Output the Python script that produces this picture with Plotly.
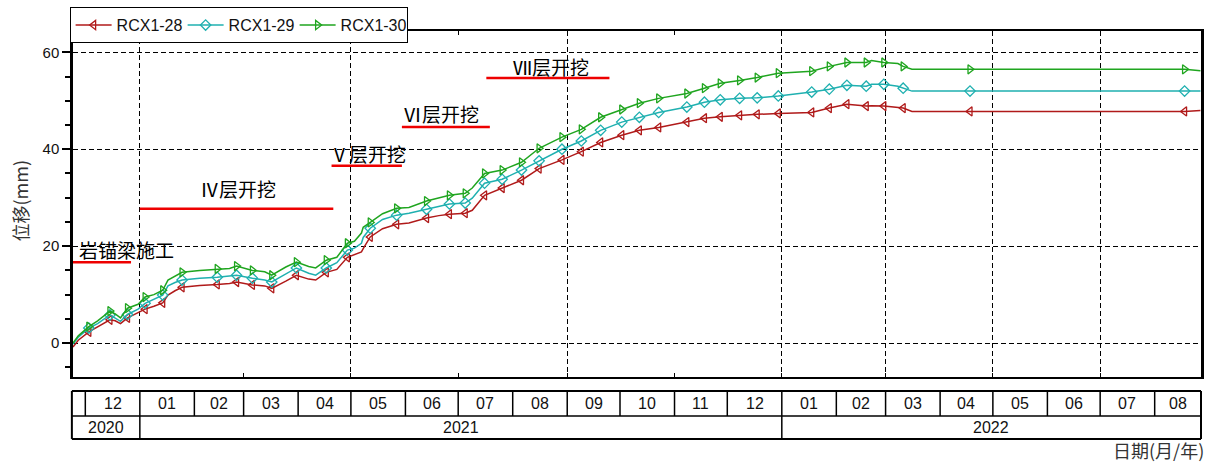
import pandas as pd
import plotly.graph_objects as go

# ---------------- data ----------------
DATES = [
    "2020-11-24", "2020-11-27", "2020-12-03", "2020-12-08", "2020-12-15", "2020-12-18",
    "2020-12-21", "2020-12-25", "2020-12-31", "2021-01-04", "2021-01-09", "2021-01-14",
    "2021-01-17", "2021-01-21", "2021-01-25", "2021-02-04", "2021-02-14", "2021-02-21",
    "2021-02-25", "2021-03-06", "2021-03-13", "2021-03-17", "2021-03-25", "2021-03-31",
    "2021-04-07", "2021-04-11", "2021-04-17", "2021-04-23", "2021-04-29", "2021-05-03",
    "2021-05-07", "2021-05-08", "2021-05-12", "2021-05-19", "2021-05-27", "2021-06-03",
    "2021-06-13", "2021-06-20", "2021-06-26", "2021-07-05", "2021-07-09", "2021-07-16",
    "2021-07-26", "2021-08-06", "2021-08-16", "2021-08-29", "2021-09-09", "2021-09-20",
    "2021-10-02", "2021-10-12", "2021-10-23", "2021-11-08", "2021-11-18", "2021-11-27",
    "2021-12-08", "2021-12-18", "2021-12-30", "2022-01-18", "2022-01-28", "2022-02-07",
    "2022-02-18", "2022-02-21", "2022-02-28", "2022-03-08", "2022-03-11", "2022-03-16",
    "2022-04-18", "2022-08-18", "2022-08-27",
]
RCX1_28 = [
    -0.8, 0.6, 2.3, 3.4, 4.8, 4.6,
    4.0, 5.2, 6.2, 7.0, 7.6, 8.3,
    9.9, 10.8, 11.5, 11.9, 12.1, 12.3,
    12.6, 12.0, 11.8, 11.3, 12.8, 14.0,
    13.2, 13.0, 14.6, 15.2, 17.7, 18.3,
    18.8, 19.5, 21.9, 23.6, 24.5, 24.8,
    25.8, 26.3, 26.6, 26.8, 27.4, 30.5,
    32.0, 33.6, 36.0, 37.8, 39.5, 41.4,
    42.9, 43.9, 44.5, 45.6, 46.4, 46.7,
    47.0, 47.2, 47.4, 47.6, 48.5, 49.3,
    48.9, 49.0, 48.9, 48.7, 48.5, 47.8,
    47.8, 47.8, 48.0,
]
RCX1_29 = [
    -0.2, 1.2, 3.1, 4.0, 5.8, 5.2,
    4.5, 5.9, 7.0, 8.2, 9.0, 9.9,
    11.8, 12.5, 13.0, 13.4, 13.6, 13.8,
    14.0, 13.4, 13.0, 12.6, 14.3, 15.5,
    14.4, 14.0, 15.5, 16.6, 19.2, 19.6,
    20.6, 21.8, 23.7, 25.5, 26.4, 26.8,
    27.6, 28.2, 28.7, 28.9, 29.9, 33.0,
    33.8, 35.7, 37.6, 40.0, 41.7, 43.9,
    45.6, 46.6, 47.6, 48.7, 49.7, 50.2,
    50.5, 50.6, 51.0, 51.8, 52.4, 53.2,
    53.0, 53.4, 53.4, 53.0, 52.6, 52.0,
    52.0, 52.0, 52.0,
]
RCX1_30 = [
    0.0, 1.5, 3.4, 4.6, 6.6, 6.0,
    5.2, 7.2, 8.0, 9.5, 10.0, 10.9,
    13.0, 13.8, 14.6, 15.0, 15.3, 15.4,
    15.9, 15.0, 14.7, 14.0, 15.7, 16.7,
    15.8, 15.5, 17.1, 17.7, 20.6, 21.0,
    22.7, 23.9, 24.9, 26.7, 27.8, 28.0,
    29.3, 30.0, 30.5, 30.9, 32.0, 35.0,
    35.7, 37.3, 40.2, 42.5, 44.1, 46.6,
    48.2, 49.5, 50.5, 51.5, 52.6, 53.6,
    54.2, 54.8, 55.7, 56.1, 57.1, 57.9,
    57.9, 58.3, 57.9, 57.7, 57.1, 56.5,
    56.5, 56.5, 56.2,
]
MARKER_DATES = [
    "2020-12-03", "2020-12-15", "2020-12-25", "2021-01-04", "2021-01-14", "2021-01-25",
    "2021-02-14", "2021-02-25", "2021-03-06", "2021-03-17", "2021-03-31", "2021-04-17",
    "2021-04-29", "2021-05-12", "2021-05-27", "2021-06-13", "2021-06-26", "2021-07-05",
    "2021-07-16", "2021-07-26", "2021-08-06", "2021-08-16", "2021-08-29", "2021-09-09",
    "2021-09-20", "2021-10-02", "2021-10-12", "2021-10-23", "2021-11-08", "2021-11-18",
    "2021-11-27", "2021-12-08", "2021-12-18", "2021-12-30", "2022-01-18", "2022-01-28",
    "2022-02-07", "2022-02-18", "2022-02-28", "2022-03-11", "2022-04-18", "2022-08-18",
]
SERIES_NAMES = ["RCX1-28", "RCX1-29", "RCX1-30"]

MONTH_STARTS = [
    "2020-12-01", "2021-01-01", "2021-02-01", "2021-03-01", "2021-04-01", "2021-05-01",
    "2021-06-01", "2021-07-01", "2021-08-01", "2021-09-01", "2021-10-01", "2021-11-01",
    "2021-12-01", "2022-01-01", "2022-02-01", "2022-03-01", "2022-04-01", "2022-05-01",
    "2022-06-01", "2022-07-01", "2022-08-01",
]
MONTH_LABELS = ["12", "01", "02", "03", "04", "05", "06", "07", "08", "09", "10", "11",
                "12", "01", "02", "03", "04", "05", "06", "07", "08"]
YEAR_STARTS = ["2021-01-01", "2022-01-01"]
YEAR_LABELS = ["2020", "2021", "2022"]
GRID_DATES = ["2021-01-01", "2021-05-01", "2021-09-01", "2022-01-01",
              "2022-03-01", "2022-05-01", "2022-07-01"]

STAGE_LABELS = ["岩锚梁施工", "Ⅳ层开挖", "Ⅴ层开挖", "Ⅵ层开挖", "Ⅶ层开挖"]
STAGE_START = ["2020-11-24", "2021-01-01", "2021-04-20", "2021-05-30", "2021-07-17"]
STAGE_END = ["2020-12-27", "2021-04-21", "2021-05-30", "2021-07-19", "2021-09-25"]
STAGE_LEVEL = [16.7, 27.7, 36.6, 44.6, 54.7]
STAGE_TEXT_X = ["2020-11-26", "2021-02-26", "2021-05-11", "2021-06-21", "2021-08-23"]
STAGE_TEXT_Y = [19.3, 32.0, 39.2, 47.3, 57.0]
STAGE_TEXT_ANCHOR = ["left", "center", "center", "center", "center"]

X_RANGE = ["2020-11-24", "2022-08-27 08:00"]
Y_RANGE = [-7.0, 64.4]

# ---------------- styles ----------------
COLORS = ["#B01A1A", "#1FB0B0", "#1FA51F"]
SYMBOLS = ["triangle-left-open", "diamond-open", "triangle-right-open"]
SANS = "Liberation Sans, Arial, sans-serif"
CJK = "Noto Sans CJK SC, sans-serif"

fig = go.Figure()

all_series = [RCX1_28, RCX1_29, RCX1_30]
mk = set(MARKER_DATES)
for name, vals, col, sym in zip(SERIES_NAMES, all_series, COLORS, SYMBOLS):
    fig.add_trace(go.Scatter(
        x=DATES, y=vals, mode="lines", line=dict(color=col, width=1.5),
        showlegend=False, hoverinfo="skip"))
    mx = [d for d in DATES if d in mk]
    my = [v for d, v in zip(DATES, vals) if d in mk]
    fig.add_trace(go.Scatter(
        x=mx, y=my, mode="markers",
        marker=dict(symbol=sym, size=8, color=col, line=dict(color=col, width=1.3)),
        showlegend=False))
for name, col, sym in zip(SERIES_NAMES, COLORS, SYMBOLS):
    fig.add_trace(go.Scatter(
        x=[None], y=[None], mode="lines+markers", name=name,
        line=dict(color=col, width=1.5),
        marker=dict(symbol=sym, size=8, color=col, line=dict(color=col, width=1.3))))

shapes = []
# stage red lines
for s, e, lv in zip(STAGE_START, STAGE_END, STAGE_LEVEL):
    shapes.append(dict(type="line", xref="x", yref="y", x0=s, x1=e, y0=lv, y1=lv,
                       line=dict(color="#EE0000", width=2.5), layer="above"))

# date table below the plot
Y_TOP, Y_MID, Y_BOT = -0.0405, -0.1127, -0.179
for yy in (Y_TOP, Y_MID, Y_BOT):
    shapes.append(dict(type="line", xref="paper", yref="paper", x0=-0.001, x1=1.0,
                       y0=yy, y1=yy, line=dict(color="black", width=2 if yy != Y_MID else 1.5)))
for xx in (-0.001, 1.0):
    shapes.append(dict(type="line", xref="paper", yref="paper", x0=xx, x1=xx,
                       y0=Y_TOP, y1=Y_BOT, line=dict(color="black", width=2)))
for d in MONTH_STARTS:
    full = d in YEAR_STARTS
    shapes.append(dict(type="line", xref="x", yref="paper", x0=d, x1=d,
                       y0=Y_TOP, y1=Y_BOT if full else Y_MID,
                       line=dict(color="black", width=1.5)))

annotations = []
x0 = pd.Timestamp(X_RANGE[0])
x1 = pd.Timestamp(X_RANGE[1])
starts = [pd.Timestamp(d) for d in MONTH_STARTS]
for i, lab in enumerate(MONTH_LABELS):
    a = max(starts[i], x0)
    b = min(starts[i + 1], x1) if i + 1 < len(starts) else x1
    mid = a + (b - a) / 2
    annotations.append(dict(x=mid, y=(Y_TOP + Y_MID) / 2, xref="x", yref="paper",
                            text=lab, showarrow=False, xanchor="center", yanchor="middle",
                            font=dict(family=SANS, size=16, color="#111")))
ybounds = [x0] + [pd.Timestamp(d) for d in YEAR_STARTS] + [x1]
for i, lab in enumerate(YEAR_LABELS):
    a, b = ybounds[i], ybounds[i + 1]
    mid = a + (b - a) / 2
    annotations.append(dict(x=mid, y=(Y_MID + Y_BOT) / 2, xref="x", yref="paper",
                            text=lab, showarrow=False, xanchor="center", yanchor="middle",
                            font=dict(family=SANS, size=16, color="#111")))

for lab, tx, ty, anc in zip(STAGE_LABELS, STAGE_TEXT_X, STAGE_TEXT_Y, STAGE_TEXT_ANCHOR):
    annotations.append(dict(x=tx, y=ty, xref="x", yref="y", text=lab, showarrow=False,
                            xanchor=anc, yanchor="middle",
                            font=dict(family=CJK, size=19, color="black")))

annotations.append(dict(x=1.004, y=-0.211, xref="paper", yref="paper", text="日期(月/年)",
                        showarrow=False, xanchor="right", yanchor="middle",
                        font=dict(family=CJK, size=18, color="#333")))
annotations.append(dict(x=-0.047, y=0.51, xref="paper", yref="paper", text="位移(mm)",
                        showarrow=False, xanchor="center", yanchor="middle", textangle=-90,
                        font=dict(family=CJK, size=18, color="#333")))

fig.update_layout(
    width=1217, height=462,
    margin=dict(l=73, r=16, t=31, b=85, autoexpand=False),
    plot_bgcolor="white", paper_bgcolor="white",
    font=dict(family=SANS, size=15, color="#222"),
    shapes=shapes, annotations=annotations,
    legend=dict(orientation="h", x=-0.003, xanchor="left", y=1.069, yanchor="top",
                bordercolor="black", borderwidth=1, bgcolor="white",
                font=dict(family=SANS, size=16, color="#111"),
                itemwidth=36, tracegroupgap=0, entrywidth=61, entrywidthmode="pixels"),
)
fig.update_xaxes(
    type="date", range=X_RANGE, showticklabels=False,
    tickmode="array", tickvals=GRID_DATES,
    showgrid=True, gridcolor="black", gridwidth=1, griddash="5px,3px",
    ticks="inside", ticklen=4, tickcolor="black",
    minor=dict(dtick="M2", tick0="2021-01-01", ticks="inside", ticklen=4,
               tickcolor="black", showgrid=False),
    showline=True, linecolor="black", linewidth=2, mirror="ticks", zeroline=False,
)
fig.update_yaxes(
    range=Y_RANGE, tickmode="linear", tick0=0, dtick=20,
    showgrid=True, gridcolor="black", gridwidth=1, griddash="5px,3px",
    ticks="outside", ticklen=8, tickwidth=1.5, tickcolor="black",
    minor=dict(dtick=5, tick0=0, ticks="outside", ticklen=5, tickwidth=1.5,
               tickcolor="black", showgrid=False),
    showline=True, linecolor="black", linewidth=2.5, mirror=True, zeroline=False,
    tickfont=dict(family=SANS, size=15, color="#111"),
)

fig.write_html("out.html", config={"displayModeBar": False},
               post_script="document.body.style.margin='0px';document.body.style.overflow='hidden';")
